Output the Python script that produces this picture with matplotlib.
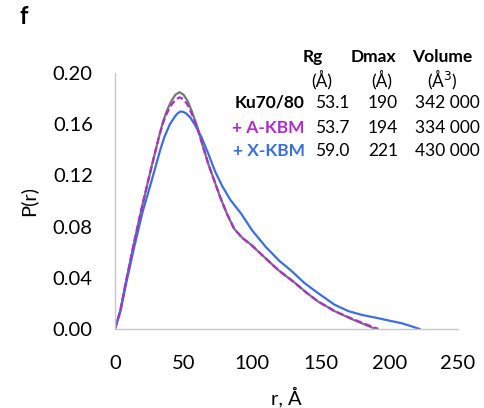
import matplotlib.pyplot as plt

plt.rcParams['font.family'] = ['Lato', 'DejaVu Sans']

# P(r) curves
r_ku = [0, 4, 8, 14, 20, 26, 32, 35, 38, 41, 44, 47, 50, 53, 56, 60, 64, 68, 72, 77, 82, 87,
        93, 99, 110, 119, 130, 140, 148, 160, 172, 182, 190]
p_ku = [0, 0.015, 0.037, 0.068, 0.097, 0.124, 0.150, 0.162, 0.171, 0.178, 0.183, 0.185, 0.183,
        0.178, 0.170, 0.158, 0.143, 0.129, 0.117, 0.102, 0.089, 0.078,
        0.071, 0.066, 0.055, 0.046, 0.037, 0.028, 0.0215, 0.014, 0.0080, 0.0035, 0]

r_a = [0, 4, 8, 14, 20, 26, 32, 35, 38, 41, 44, 47, 50, 53, 56, 60, 64, 68, 72, 77, 82, 87,
       93, 99, 110, 119, 130, 140, 148, 160, 172, 182, 192]
p_a = [0, 0.015, 0.037, 0.068, 0.097, 0.124, 0.150, 0.161, 0.169, 0.175, 0.179, 0.181, 0.1795,
       0.175, 0.168, 0.157, 0.143, 0.129, 0.117, 0.102, 0.089, 0.078,
       0.071, 0.066, 0.055, 0.046, 0.037, 0.028, 0.0215, 0.014, 0.0084, 0.004, 0]

r_x = [0, 4, 8, 14, 20, 27, 33, 36, 40, 44, 46, 48, 50, 52, 55, 58, 63, 68, 73, 78, 84, 92,
       100, 110, 120, 128, 138, 148, 160, 170, 180, 192, 200, 209, 215, 222]
p_x = [0, 0.014, 0.035, 0.064, 0.091, 0.117, 0.140, 0.150, 0.160, 0.1665, 0.1688, 0.170, 0.1695,
       0.1683, 0.165, 0.160, 0.150, 0.137, 0.123, 0.112, 0.101, 0.090,
       0.077, 0.064, 0.053, 0.046, 0.036, 0.028, 0.019, 0.014, 0.011, 0.0084, 0.0065, 0.0045,
       0.0025, 0]

samples = ['Ku70/80', '+ A-KBM', '+ X-KBM']
rg = ['53.1', '53.7', '59.0']
dmax = ['190', '194', '221']
volume = ['342 000', '334 000', '430 000']

grey = '#727a72'
magenta = '#b02ccf'
blue = '#3a6fe0'

W, H = 484, 408
fig = plt.figure(figsize=(W / 100, H / 100), dpi=100)
ax = fig.add_axes([115 / W, 1 - 329 / H, (458 - 115) / W, (329 - 73) / H])

ax.plot(r_ku, p_ku, color=grey, lw=1.6)
ax.plot(r_x, p_x, color=blue, lw=1.6)
ax.plot(r_a, p_a, color=magenta, lw=1.6, dashes=(3, 1.5))

ax.set_xlim(0, 250)
ax.set_ylim(0, 0.2)
ax.set_xticks([0, 50, 100, 150, 200, 250])
ax.set_yticks([0, 0.04, 0.08, 0.12, 0.16, 0.20])
ax.set_yticklabels(['0.00', '0.04', '0.08', '0.12', '0.16', '0.20'])
ax.tick_params(length=0, labelsize=14.5)
ax.tick_params(axis='y', pad=16)
ax.tick_params(axis='x', pad=19)
for s in ['top', 'right']:
    ax.spines[s].set_visible(False)
for s in ['left', 'bottom']:
    ax.spines[s].set_color('#c8c8c8')
    ax.spines[s].set_linewidth(1)

ax.set_xlabel('r, Å', fontsize=14.5, labelpad=10)
ax.set_ylabel('P(r)', fontsize=14.5, labelpad=11)

fig.text(24 / W, 1 - 17 / H, 'f', fontsize=17, fontweight='bold', va='center', ha='center')


def px(x, y):
    return x / W, 1 - y / H


fs = 12.5
for txt, x in [('Rg', 313), ('Dmax', 373), ('Volume', 442)]:
    fig.text(*px(x, 57), txt, fontsize=fs, fontweight='bold', ha='center', va='center')
for txt, x in [('(Å)', 322), ('(Å)', 382), ('(Å$^3$)', 442)]:
    fig.text(*px(x, 80), txt, fontsize=fs, ha='center', va='center')

colors = ['black', magenta, blue]
for i, y in enumerate([103, 128, 151]):
    fig.text(*px(305, y), samples[i], fontsize=fs, fontweight='bold', color=colors[i],
             ha='right', va='center')
    fig.text(*px(332, y), rg[i], fontsize=fs, ha='center', va='center')
    fig.text(*px(383, y), dmax[i], fontsize=fs, ha='center', va='center')
    fig.text(*px(447, y), volume[i], fontsize=fs, ha='center', va='center')

fig.savefig('out.png', dpi=100)
